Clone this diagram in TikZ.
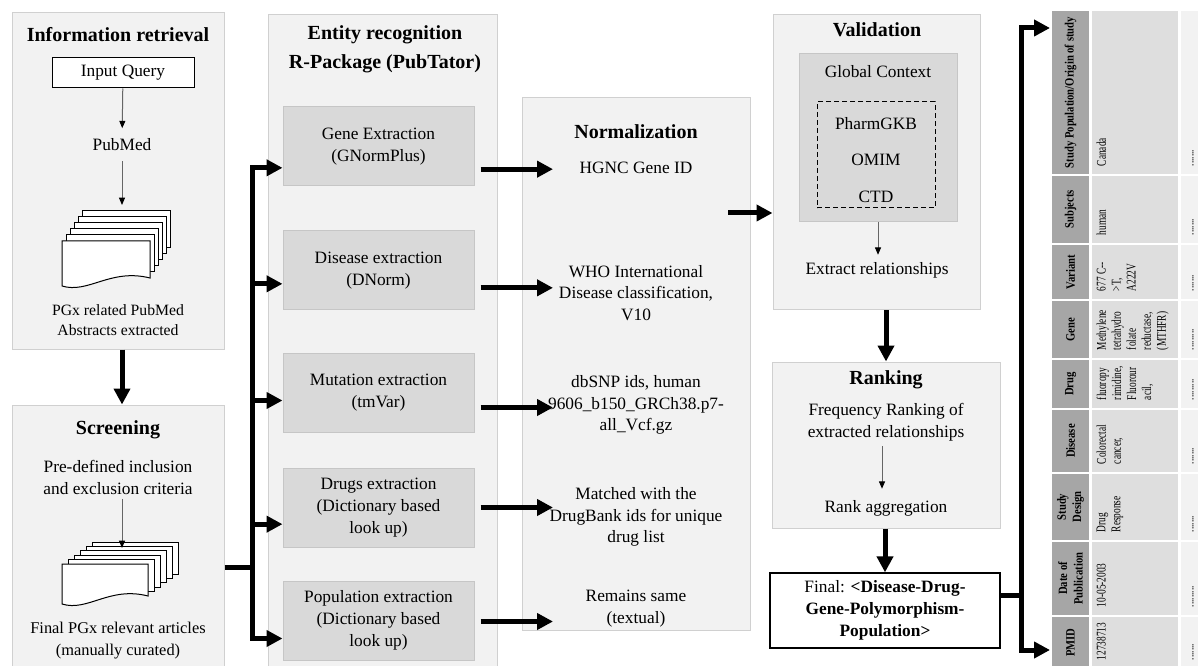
\documentclass[tikz,border=0pt]{standalone}
\usepackage{fontspec}
\setmainfont{Liberation Serif}
\usetikzlibrary{arrows.meta,positioning,fit,calc}

\definecolor{panelfill}{HTML}{F2F2F2}
\definecolor{paneldraw}{HTML}{D0D0D0}
\definecolor{boxfill}{HTML}{D9D9D9}
\definecolor{boxdraw}{HTML}{C6C6C6}
\definecolor{headfill}{HTML}{A6A6A6}
\definecolor{cellfill}{HTML}{DEDEDE}
\definecolor{dotfill}{HTML}{F2F2F2}

% stack of pages: name, x, y, width, height, dx, dy
\newcommand\docstack[7]{%
  \foreach \k in {5,4,3,2,1}{%
    \draw[docpage] (#2+\k*#6,#3-\k*#7) rectangle ++(#4,#5);
  }
  \draw[docpage] (#2,#3) -- (#2+#4,#3) -- (#2+#4,#3+#5)
    .. controls (#2+0.55*#4,#3+#5-10) and (#2+0.3*#4,#3+#5+16) .. (#2,#3+#5+8) -- cycle;
  \coordinate (#1) at (#2+#4/2,#3-5*#7);
}

% one row of the rotated table: top, bottom, header, data, name, dots
\newcommand\tabrow[6]{%
  \node[hcell,fit={(1052,#1) (1089,#2)}] (h#5) {};
  \node[dcell,fit={(1092,#1) (1178,#2)}] (d#5) {};
  \node[ecell,fit={(1181,#1) (1215,#2)}] (e#5) {};
  \node[htext] at (h#5.center) {#3};
  \node[dtext] at ([xshift=3.5pt,yshift=6pt]d#5.south west) {#4};
  \node[dtext] at ([xshift=8.5pt,yshift=6pt]e#5.south west) {#6};
}

\begin{document}
\begin{tikzpicture}[x=0.75pt,y=-0.75pt,>=Latex, every node/.style={font=\fontsize{13}{16.3}\selectfont}]
\tikzstyle{panel}=[draw=paneldraw,fill=panelfill,line width=0.75pt,inner sep=0pt]
\tikzstyle{ptitle}=[font=\bfseries\fontsize{15}{21.75}\selectfont,align=center]
\tikzstyle{ebox}=[draw=boxdraw,fill=boxfill,line width=0.75pt,align=center,minimum width=143.25pt,minimum height=59.25pt]
\tikzstyle{gbox}=[draw=boxdraw,fill=boxfill,line width=0.75pt,inner sep=0pt]
\tikzstyle{dbox}=[draw=black,line width=0.75pt,dash pattern=on 3.5pt off 2.5pt,inner sep=0pt]
\tikzstyle{qbox}=[draw=black,fill=white,line width=0.75pt,minimum width=106.5pt,minimum height=22.5pt]
\tikzstyle{fbox}=[draw=black,fill=white,line width=1pt,align=center,minimum width=172.5pt,minimum height=56.25pt]
\tikzstyle{docpage}=[draw=black,fill=white,line width=0.75pt]
\tikzstyle{thinarrow}=[draw=black!60,line width=0.75pt,-{Triangle[length=5.5pt,width=4.5pt,color=black]}]
\tikzstyle{bigline}=[line width=3.75pt]
\tikzstyle{bigarrow}=[bigline,-{Triangle[length=12pt,width=12pt]}]
\tikzstyle{hcell}=[fill=headfill,inner sep=0pt]
\tikzstyle{dcell}=[fill=cellfill,inner sep=0pt]
\tikzstyle{ecell}=[fill=dotfill,inner sep=0pt]
\tikzstyle{htext}=[rotate=90,xscale=0.84,inner sep=0pt,align=center,font=\bfseries\fontsize{9.5}{11.5}\selectfont]
\tikzstyle{dtext}=[rotate=90,xscale=0.7,inner sep=0pt,align=left,anchor=north west,font=\fontsize{10}{11.25}\selectfont]

\path[fill=white,use as bounding box] (0,0) rectangle (1198,666);

% panels
\node[panel,fit={(12,13) (224,349)}] (info) {};
\node[panel,fit={(12,405) (224,680)}] (screen) {};
\node[panel,fit={(268,15) (497,680)}] (entity) {};
\node[panel,fit={(522,98) (750,630)}] (norm) {};
\node[panel,fit={(773,15) (980,310)}] (valid) {};
\node[panel,fit={(772,362) (1000,528)}] (rank) {};

\node[ptitle] (infot) at (118,35) {Information retrieval};
\node[ptitle] (screent) at (118,430) {Screening};
\node[ptitle] (entityt) at (385,49) {Entity recognition\\R-Package (PubTator)};
\node[ptitle] (normt) at (636,132) {Normalization};
\node[ptitle] (validt) at (877,30) {Validation};
\node[ptitle] (rankt) at (886,380) {Ranking};

% information retrieval
\node[qbox] (query) at (123,73) {Input Query};
\node (pubmed) at (122,145) {PubMed};
\docstack{absA}{62}{241}{88}{37}{4}{6}
\node[align=center,font=\fontsize{11.8}{15}\selectfont] (abstracts) at (118,320) {PGx related PubMed\\Abstracts extracted};
\draw[thinarrow,shorten >=4.5pt] (query) -- (pubmed);
\draw[thinarrow,shorten <=4pt,shorten >=4.5pt] (pubmed) -- (pubmed |- absA);

% screening
\node[align=center,font=\fontsize{13}{16.5}\selectfont] (criteria) at (118,477) {Pre-defined inclusion\\and exclusion criteria};
\docstack{artB}{62}{564}{86}{32}{6}{4.4}
\node[align=center,font=\fontsize{12.3}{16.5}\selectfont] (articles) at (118,641) {Final PGx relevant articles\\(manually curated)};
\draw[thinarrow,shorten >=-4.5pt] ([xshift=3pt]criteria.south) -- ([xshift=3pt]criteria.south |- artB);
\draw[bigarrow] (info.south -| pubmed) -- (screen.north -| pubmed);

% entity recognition
\node[ebox] (gene) at (378.5,146.5) {Gene Extraction\\(GNormPlus)};
\node[ebox,below=33pt of gene] (disease) {Disease extraction\\(DNorm)};
\node[ebox,below=31.5pt of disease] (mutation) {Mutation extraction\\(tmVar)};
\node[ebox,below=26.25pt of mutation] (drugs) {Drugs extraction\\(Dictionary based\\look up)};
\node[ebox,below=24.75pt of drugs] (population) {Population extraction\\(Dictionary based\\look up)};

\coordinate (fork) at (252,567);
\coordinate (gin) at ([yshift=-16pt]gene.west);
\coordinate (din) at ([yshift=-10pt]disease.west);
\coordinate (mtin) at ([yshift=-6pt]mutation.west);
\coordinate (drin) at ([yshift=-12.5pt]drugs.west);
\coordinate (pin) at ([yshift=-13.5pt]population.west);
\draw[bigline] (screen.east |- fork) -- (fork);
\draw[bigline,line cap=rect] (gin -| fork) -- (pin -| fork);
\draw[bigarrow] (gin -| fork) -- (gin);
\draw[bigarrow] (din -| fork) -- (din);
\draw[bigarrow] (mtin -| fork) -- (mtin);
\draw[bigarrow] (drin -| fork) -- (drin);
\draw[bigarrow] (pin -| fork) -- (pin);

% normalization
\node (hgnc) at (636,168) {HGNC Gene ID};
\node[align=center] (who) at (636,293) {WHO International\\Disease classification,\\V10};
\node[align=center] (dbsnp) at (636,405) {dbSNP ids, human\\9606\_b150\_GRCh38.p7-\\all\_Vcf.gz};
\node[align=center] (matched) at (636,517) {Matched with the\\DrugBank ids for unique\\drug list};
\node[align=center] (remains) at (636,608.5) {Remains same\\(textual)};

\coordinate (tip) at (553,0);
\coordinate (gout) at ([yshift=-17pt]gene.east);
\coordinate (dout) at ([yshift=-13pt]disease.east);
\coordinate (mtout) at ([yshift=-11.25pt]mutation.east);
\coordinate (drout) at (drugs.east);
\coordinate (pout) at ([yshift=-0.75pt]population.east);
\draw[bigarrow,shorten <=4.5pt] (gout) -- (gout -| tip);
\draw[bigarrow,shorten <=4.5pt] (dout) -- (dout -| tip);
\draw[bigarrow,shorten <=4.5pt] (mtout) -- (mtout -| tip);
\draw[bigarrow,shorten <=4.5pt] (drout) -- (drout -| tip);
\draw[bigarrow,shorten <=4.5pt] (pout) -- (pout -| tip);

% validation
\coordinate (n2v) at (728,213);
\draw[bigarrow] (n2v) -- (n2v -| valid.west);
\node[gbox,fit={(799,54) (957,222)}] (gctx) {};
\node (gctxt) at (878,72) {Global Context};
\node[dbox,fit={(817,102) (935,208)}] (dbs) {};
\node (pharm) at (876,124) {PharmGKB};
\node (omim) at (876,160) {OMIM};
\node (ctd) at (876,197) {CTD};
\node (extract) at (877,270) {Extract relationships};
\draw[thinarrow,shorten >=2pt] (gctx.south) -- (gctx.south |- extract.north);

% ranking
\node[align=center] (freq) at (886,422.5) {Frequency Ranking of\\extracted relationships};
\node (agg) at (886,508) {Rank aggregation};
\draw[thinarrow,shorten >=5pt] ([xshift=-3pt]freq.south) -- ([xshift=-3pt]freq.south |- agg.north);
\draw[bigarrow] (valid.south -| rank.north) -- (rank.north);

\node[fbox] (final) at (885,610.5) {Final: \textbf{<Disease-Drug-}\\\textbf{Gene-Polymorphism-}\\\textbf{Population>}};
\draw[bigarrow] (rank.south -| final.north) -- (final.north);

% output table (rotated)
\tabrow{11}{174}{Study Population/Origin of study}{Canada}{pop}{.......}
\tabrow{176}{243}{Subjects}{human}{sub}{.......}
\tabrow{245}{299}{Variant}{677 C-{}-\\>T,\\A222V}{var}{.......}
\tabrow{301}{358}{Gene}{Methylene\\tetrahydro\\folate\\reductase,\\(MTHFR)}{gen}{.........}
\tabrow{360}{408}{Drug}{fluoropy\\rimidine,\\Fluorour\\acil,}{drg}{.........}
\tabrow{410}{472}{Disease}{Colorectal\\cancer,}{dis}{.......}
\tabrow{474}{540}{Study\\Design}{Drug\\Response}{des}{.......}
\tabrow{542}{615}{Date of\\Publication}{10-05-2003}{dat}{.........}
\tabrow{617}{668}{PMID}{12738713}{pmid}{.......}

\coordinate (rfork) at (1021,595);
\coordinate (ttop) at (1050,28);
\coordinate (tbot) at (1050,650);
\draw[bigline] (final.east |- rfork) -- (rfork);
\draw[bigarrow] (rfork) |- (ttop);
\draw[bigarrow] (rfork) |- (tbot);
\end{tikzpicture}
\end{document}
